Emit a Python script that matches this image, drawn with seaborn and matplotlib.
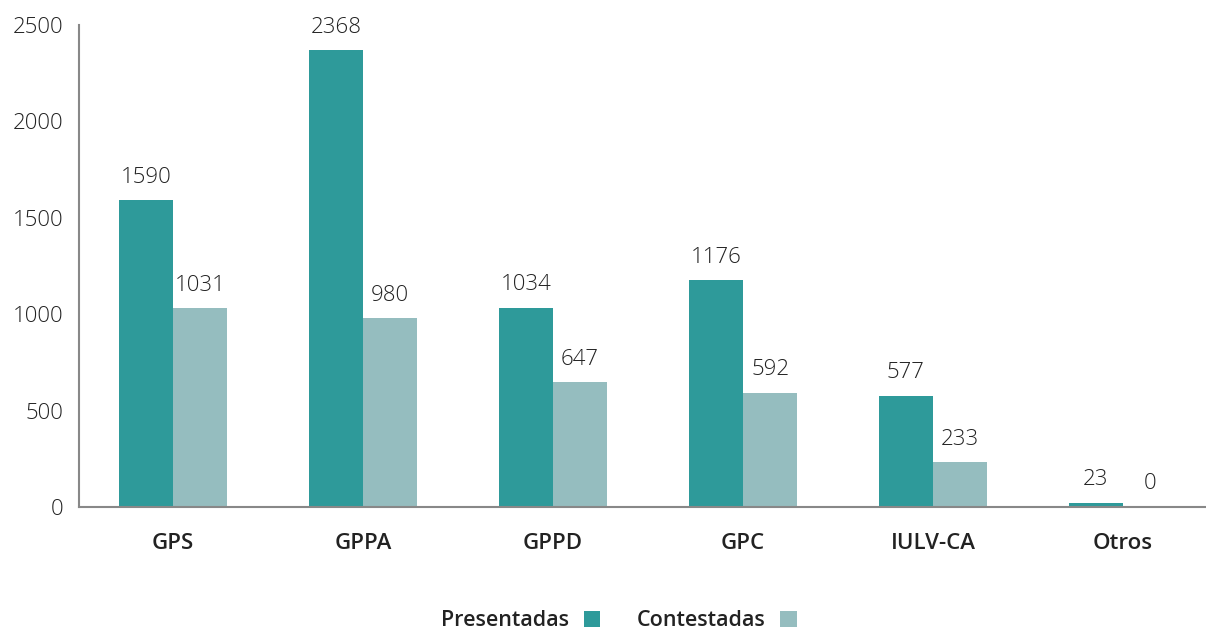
import matplotlib
matplotlib.use("Agg")
import matplotlib.pyplot as plt
import seaborn as sns
import pandas as pd
from matplotlib.patches import Patch

categories = ["GPS", "GPPA", "GPPD", "GPC", "IULV-CA", "Otros"]
presentadas = [1590, 2368, 1034, 1176, 577, 23]
contestadas = [1031, 980, 647, 592, 233, 0]
series_names = ["Presentadas", "Contestadas"]
colors = ["#2E9A9A", "#95BDBF"]

df = pd.DataFrame({
    "grupo": categories * 2,
    "valor": presentadas + contestadas,
    "serie": [series_names[0]] * len(categories) + [series_names[1]] * len(categories),
})

sns.set_theme(style="white")
plt.rcParams["font.family"] = ["Open Sans", "DejaVu Sans"]

fig = plt.figure(figsize=(12.06, 6.32), dpi=100)
ax = fig.add_axes([0.0655, 0.1978, 0.9345, 0.7627])

sns.barplot(data=df, x="grupo", y="valor", hue="serie", palette=colors,
            width=0.57, saturation=1, ax=ax, legend=False, dodge=True,
            linewidth=0, edgecolor="none")

for cont in ax.containers:
    ax.bar_label(cont, padding=9, fontsize=16, color="#222222", fontweight="light")

ax.set_xlim(-0.495, 5.437)
ax.set_ylim(0, 2500)
ax.set_yticks([0, 500, 1000, 1500, 2000, 2500])
ax.set_xlabel("")
ax.set_ylabel("")
ax.tick_params(axis="y", length=0, labelsize=16, labelcolor="#222222", pad=11)
ax.tick_params(axis="x", length=0, labelsize=16, labelcolor="#222222", pad=19)
for lbl in ax.get_yticklabels():
    lbl.set_fontweight("light")
for lbl in ax.get_xticklabels():
    lbl.set_fontweight("semibold")
for s in ["top", "right"]:
    ax.spines[s].set_visible(False)
for s in ["left", "bottom"]:
    ax.spines[s].set_color("#888888")
    ax.spines[s].set_linewidth(1.5)

handles = [Patch(facecolor=c, edgecolor="none") for c in colors]
leg = fig.legend(handles, series_names, loc="center", bbox_to_anchor=(0.513, 0.018),
                 ncol=2, frameon=False, markerfirst=False, handlelength=0.75,
                 handleheight=0.75, columnspacing=1.7, handletextpad=0.7,
                 fontsize=15.5)
for t in leg.get_texts():
    t.set_fontweight("semibold")
    t.set_color("#222222")

fig.savefig("out.png", dpi=100)
